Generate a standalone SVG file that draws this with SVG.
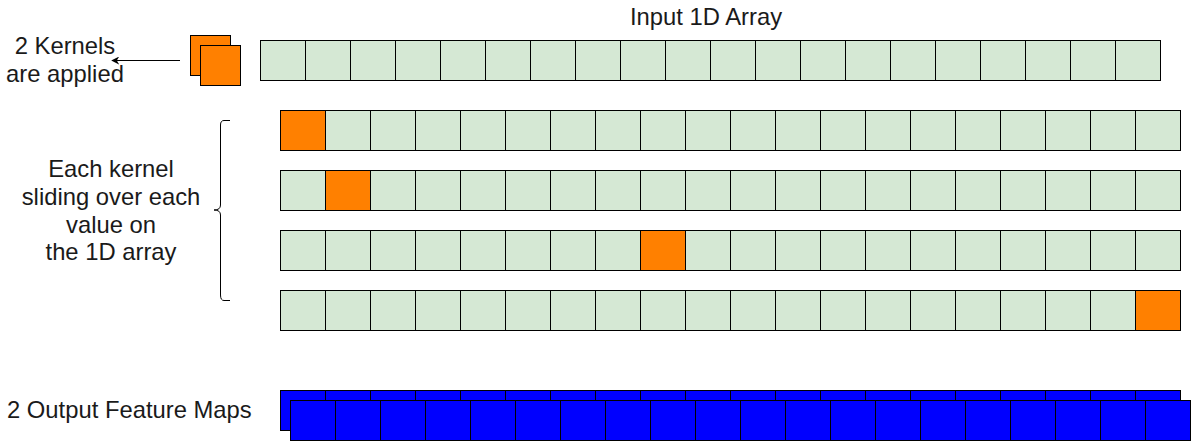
<svg xmlns="http://www.w3.org/2000/svg" width="1191" height="441" viewBox="0 0 1191 441">
<defs>
<style>
.t{font-family:"Liberation Sans",Arial,sans-serif;font-size:23.8px;fill:#1a1a1a}
.c{fill:#d5e8d4;stroke:#000;stroke-width:1}
.o{fill:#ff8000;stroke:#000;stroke-width:1}
.b{fill:#0000ff;stroke:#000;stroke-width:1}
.d{stroke:#000;stroke-width:1;fill:none}
</style>
<marker id="ah" viewBox="0 0 10 10" refX="9" refY="5" markerWidth="8" markerHeight="8" orient="auto" markerUnits="userSpaceOnUse"><path d="M10,5 L0,0 L3,5 L0,10 Z" fill="#000"/></marker>
<path id="div" d="M45,0V40M90,0V40M135,0V40M180,0V40M225,0V40M270,0V40M315,0V40M360,0V40M405,0V40M450,0V40M495,0V40M540,0V40M585,0V40M630,0V40M675,0V40M720,0V40M765,0V40M810,0V40M855,0V40"/>
</defs>
<rect width="1191" height="441" fill="#fff"/>
<g id="labels">
<text class="t" x="706" y="25" text-anchor="middle">Input 1D Array</text>
<text class="t" x="65" y="54" text-anchor="middle">2 Kernels</text>
<text class="t" x="65" y="82" text-anchor="middle">are applied</text>
<text class="t" x="111" y="177" text-anchor="middle">Each kernel</text>
<text class="t" x="111" y="205" text-anchor="middle">sliding over each</text>
<text class="t" x="111" y="233" text-anchor="middle">value on</text>
<text class="t" x="111" y="260" text-anchor="middle">the 1D array</text>
<text class="t" x="7" y="418">2 Output Feature Maps</text>
</g>
<g id="kernels">
<rect class="o" x="190.5" y="35.5" width="40" height="40"/>
<rect class="o" x="200.5" y="45.5" width="40" height="40"/>
</g>
<g id="connectors">
<line x1="180" y1="60.5" x2="112" y2="60.5" stroke="#000" stroke-width="1" marker-end="url(#ah)"/>
<path d="M230,120.5 L224,120.5 Q220.5,120.5 220.5,125 L220.5,205 Q220.5,210 214,210 Q220.5,210 220.5,215 L220.5,295 Q220.5,300.5 224,300.5 L230,300.5" fill="none" stroke="#000" stroke-width="1"/>
</g>
<g id="input-array">
<rect class="c" x="260.5" y="40.5" width="900" height="40"/>
<use href="#div" class="d" transform="translate(260.5,40.5)"/>
</g>
<g id="step1">
<rect class="c" x="280.5" y="110.5" width="900" height="40"/>
<use href="#div" class="d" transform="translate(280.5,110.5)"/>
<rect class="o" x="280.5" y="110.5" width="45" height="40"/>
</g>
<g id="step2">
<rect class="c" x="280.5" y="170.5" width="900" height="40"/>
<use href="#div" class="d" transform="translate(280.5,170.5)"/>
<rect class="o" x="325.5" y="170.5" width="45" height="40"/>
</g>
<g id="step3">
<rect class="c" x="280.5" y="230.5" width="900" height="40"/>
<use href="#div" class="d" transform="translate(280.5,230.5)"/>
<rect class="o" x="640.5" y="230.5" width="45" height="40"/>
</g>
<g id="step4">
<rect class="c" x="280.5" y="290.5" width="900" height="40"/>
<use href="#div" class="d" transform="translate(280.5,290.5)"/>
<rect class="o" x="1135.5" y="290.5" width="45" height="40"/>
</g>
<g id="output-map-1">
<rect class="b" x="280.5" y="390.5" width="900" height="40"/>
<use href="#div" class="d" transform="translate(280.5,390.5)"/>
</g>
<g id="output-map-2">
<rect class="b" x="290.5" y="400.5" width="900" height="40"/>
<use href="#div" class="d" transform="translate(290.5,400.5)"/>
</g>
</svg>
